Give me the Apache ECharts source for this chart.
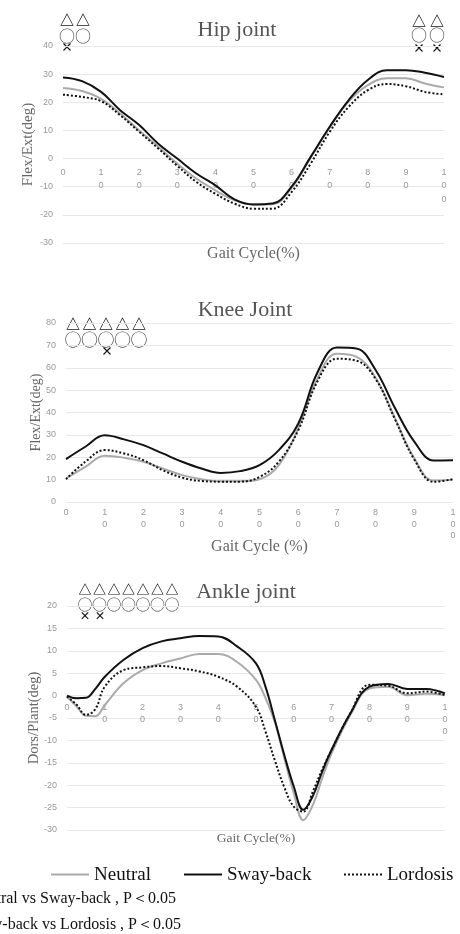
<!DOCTYPE html>
<html>
<head>
<meta charset="utf-8">
<script src="https://cdn.jsdelivr.net/npm/echarts@6/dist/echarts.min.js"></script>
<style>
html,body{margin:0;padding:0;background:#fff;}
#main{width:460px;height:934px;}
</style>
</head>
<body>
<div id="main"></div>
<script>
// gait cycle positions (%) and joint angles (deg)
var hipPct = [0,5,10,15,20,25,30,35,40,45,50,55,60,65,70,75,80,85,90,95,100];
var hipNeutral  = [25.1,24,21.2,16,10,4.2,-1.8,-7.1,-11.3,-14.8,-16.3,-16.2,-10.5,0.3,11,20.3,26.1,28.5,28.5,26.7,25.3];
var hipSway     = [28.8,27.5,23.7,17.2,11.9,5.3,0,-5.3,-9.5,-14.5,-16.3,-16,-10,0.6,11.3,20.8,27.9,31.4,31.4,30.5,29];
var hipLordosis = [22.7,21.9,20.4,15.4,9.5,3.6,-2.6,-8.3,-12.5,-16,-17.8,-17.8,-11.9,-1.8,9.5,18.4,24.3,26.5,25.7,23.7,22.8];

var kneePct = [0,5,10,15,20,25,30,35,40,45,50,55,60,65,70,75,80,85,90,95,100];
var kneeNeutral  = [10.5,15.7,20.7,19.8,18,15,12,10.2,9.3,9.3,10.2,16.5,33,55.3,66.3,65,55.5,37.5,19.5,9.6,10];
var kneeSway     = [19.2,24.7,29.8,28,25.4,21.7,18,15,13,13.8,16.5,23.2,35,58,69,68.6,59,42,27,18.6,18.7];
var kneeLordosis = [10.2,18,23.2,21.7,18.7,14.2,10.9,9.4,9.1,9.1,11.2,18,32,54,64,63.2,55,37,19,9,10.2];

var anklePct = [0,2.5,5,7.5,10,15,20,25,30,35,40,45,50,52.5,55,57.5,60,62.5,65,67.5,70,75,80,85,90,95,100];
var ankleNeutral  = [-0.2,-2.4,-4.5,-4.6,-2.1,2.8,5.7,7.2,8.3,9.3,9.3,7.5,3.5,-0.5,-6,-14,-21.8,-27.8,-24.5,-18.5,-12.9,-4.3,1.6,2,0.1,0.4,0.1];
var ankleSway     = [0,-0.6,-0.5,1.5,4.2,8,10.6,12.1,12.8,13.3,13.2,11,7.2,2,-5.5,-13.3,-20.3,-25.5,-22.5,-17,-12.1,-3.9,2,2.6,1.5,1.5,0.5];
var ankleLordosis = [-0.2,-2,-4.3,-3,2,5.7,6.3,6.6,6.1,5.4,4.2,2,-2.5,-8,-14.5,-20.5,-24.8,-25.9,-21.5,-16.5,-12.1,-3.9,2.4,2.2,0.5,0.9,0.1];

var groupNames = ['Neutral', 'Sway-back', 'Lordosis'];
var titles = ['Hip joint', 'Knee Joint', 'Ankle joint'];
var xNames = ['Gait Cycle(%)', 'Gait Cycle (%)', 'Gait Cycle(%)'];
var yNames = ['Flex/Ext(deg)', 'Flex/Ext(deg)', 'Dors/Plant(deg)'];
var notes = ['\u25B3\uFF1ANeutral vs Sway-back , P\uFF1C0.05', '\u25CB\uFF1ASway-back vs Lordosis , P\uFF1C0.05'];

var serif = '"Liberation Serif", "DejaVu Serif", serif';
var cjk = '"Noto Sans CJK JP", "DejaVu Sans"';

function pairs(xs, ys) {
    return xs.map(function (x, i) { return [x, ys[i]]; });
}

var grids = [
    {left: 63, right: 16, top: 46, height: 197},
    {left: 66, right: 7, top: 323, height: 179},
    {left: 67, right: 15, top: 606, height: 224}
];
var yRanges = [[-30, 40, 10], [0, 80, 10], [-30, 20, 5]];
// x axis sits on the zero line (moved up from the grid bottom)
var xOffsets = [-84.4, 0, -134.4];
var xNameGaps = [87, 37, 136];
var xNameSizes = [16, 16, 13.5];
var yNameGaps = [27.5, 23, 25];
var yNameSizes = [15, 14, 14.5];
var xLineH = [13.5, 11.5, 12];
var xMargin = [7, 5, 6];

var xAxes = [], yAxes = [];
for (var i = 0; i < 3; i++) {
    xAxes.push({
        gridIndex: i,
        type: 'value',
        min: 0, max: 100, interval: 10,
        offset: xOffsets[i],
        name: xNames[i],
        nameLocation: 'middle',
        nameGap: xNameGaps[i],
        nameMoveOverlap: false,
        nameTextStyle: {fontFamily: serif, fontSize: xNameSizes[i], color: '#666'},
        axisLine: {show: false, onZero: false},
        axisTick: {show: false},
        splitLine: {show: false},
        axisLabel: {
            color: '#999', fontSize: 9, lineHeight: xLineH[i], margin: xMargin[i],
            formatter: function (v) { return String(v).split('').join('\n'); }
        }
    });
    yAxes.push({
        gridIndex: i,
        type: 'value',
        min: yRanges[i][0], max: yRanges[i][1], interval: yRanges[i][2],
        name: yNames[i],
        nameLocation: 'middle',
        nameGap: yNameGaps[i],
        nameMoveOverlap: false,
        nameTextStyle: {fontFamily: serif, fontSize: yNameSizes[i], color: '#666'},
        axisLine: {show: false},
        axisTick: {show: false},
        axisLabel: {color: '#999', fontSize: 9, margin: 10},
        splitLine: {lineStyle: {color: '#e8e8e8'}}
    });
}

var sets = [
    [hipPct, hipNeutral, hipSway, hipLordosis],
    [kneePct, kneeNeutral, kneeSway, kneeLordosis],
    [anklePct, ankleNeutral, ankleSway, ankleLordosis]
];
var styles = [
    {color: '#aaaaaa', width: 2, type: 'solid'},
    {color: '#111111', width: 2, type: 'solid'},
    {color: '#111111', width: 2, type: 'dotted'}
];
var series = [];
sets.forEach(function (s, gi) {
    for (var k = 0; k < 3; k++) {
        series.push({
            name: groupNames[k],
            type: 'line',
            xAxisIndex: gi, yAxisIndex: gi,
            smooth: 0.4,
            symbol: 'none',
            color: styles[k].color,
            lineStyle: styles[k],
            z: k == 0 ? 2 : 3,
            data: pairs(s[0], s[k + 1])
        });
    }
});

// significance marks drawn as text
var graphic = [];
function mark(txt, x, y, size, bold) {
    graphic.push({type: 'text', x: x, y: y, style: {text: txt, fill: bold ? '#111' : '#444',
        font: (bold ? 'bold ' : '') + size + 'px ' + cjk, align: 'center', verticalAlign: 'middle'}});
}
[67, 83].forEach(function (x) { mark('\u25B3', x, 20, 14, true); mark('\u25CB', x, 35.5, 16); });
[419, 437].forEach(function (x) { mark('\u25B3', x, 21, 14, true); mark('\u25CB', x, 35, 16); });
mark('\u00D7', 67, 47, 12, true);
[419, 437].forEach(function (x) { mark('\u00D7', x, 48, 12, true); });
[73, 89.5, 106, 122.5, 139].forEach(function (x) { mark('\u25B3', x, 324, 14, true); mark('\u25CB', x, 340, 17); });
mark('\u00D7', 107, 351, 12, true);
[85, 99.5, 114, 128.5, 143, 157.5, 172].forEach(function (x) { mark('\u25B3', x, 589, 13, true); mark('\u25CB', x, 604.5, 15); });
[85, 100].forEach(function (x) { mark('\u00D7', x, 616, 11, true); });

notes.forEach(function (t, i) {
    graphic.push({type: 'text', x: [176, 181][i], y: [899, 925][i],
        style: {text: t, font: '16px ' + serif, fill: '#111', align: 'right', verticalAlign: 'middle'}});
});

var legendLeft = [45, 178, 338];
var option = {
    animation: false,
    backgroundColor: '#fff',
    title: titles.map(function (t, i) {
        return {text: t, left: [232, 240, 241][i], top: [25, 305, 587][i], textAlign: 'center',
            textVerticalAlign: 'middle',
            textStyle: {fontFamily: serif, fontSize: 22, fontWeight: 'normal', color: '#555'}};
    }),
    legend: groupNames.map(function (n, i) {
        return {
            data: [n],
            left: legendLeft[i], top: 860,
            itemWidth: 38, itemHeight: 24,
            itemStyle: {opacity: 0},
            textStyle: {fontFamily: serif, fontSize: 19, color: '#111'}
        };
    }),
    grid: grids,
    xAxis: xAxes,
    yAxis: yAxes,
    series: series,
    graphic: graphic
};

var myChart = echarts.init(document.getElementById('main'));
myChart.setOption(option);
</script>
</body>
</html>
